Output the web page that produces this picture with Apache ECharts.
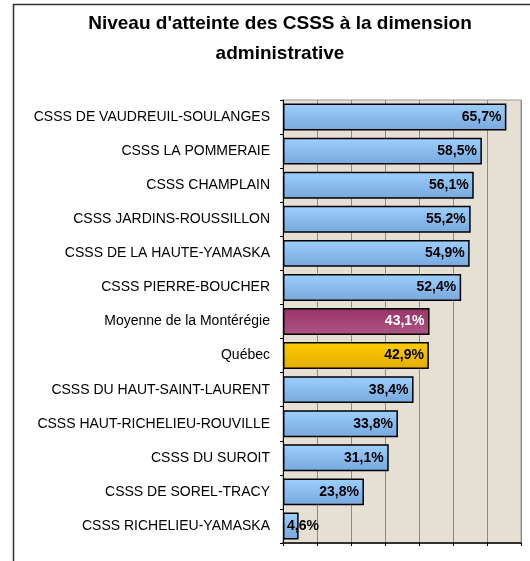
<!DOCTYPE html>
<html>
<head>
<meta charset="utf-8">
<script src="https://cdn.jsdelivr.net/npm/echarts@6/dist/echarts.min.js"></script>
<style>
  html, body { margin: 0; padding: 0; background: #fff; }
  #chart { width: 530px; height: 561px; }
</style>
</head>
<body>
<div id="chart"></div>
<script>
// data, top to bottom as in the picture
const categories = [
    'CSSS DE VAUDREUIL-SOULANGES',
    'CSSS LA POMMERAIE',
    'CSSS CHAMPLAIN',
    'CSSS JARDINS-ROUSSILLON',
    'CSSS DE LA HAUTE-YAMASKA',
    'CSSS PIERRE-BOUCHER',
    'Moyenne de la Montérégie',
    'Québec',
    'CSSS DU HAUT-SAINT-LAURENT',
    'CSSS HAUT-RICHELIEU-ROUVILLE',
    'CSSS DU SUROIT',
    'CSSS DE SOREL-TRACY',
    'CSSS RICHELIEU-YAMASKA'
]
const values = [65.7, 58.5, 56.1, 55.2, 54.9, 52.4, 43.1, 42.9, 38.4, 33.8, 31.1, 23.8, 4.6]

const font = 'Liberation Sans, Arial, sans-serif'

const grad = (top, bottom) => new echarts.graphic.LinearGradient(0, 0, 0, 1, [
    {offset: 0, color: top},
    {offset: 1, color: bottom}
])

function barStyle(name) {
    if (name === 'Moyenne de la Montérégie') return {fill: grad('#993366', '#ad5584'), text: '#fff'}
    if (name === 'Québec') return {fill: grad('#ffcc00', '#e3ad00'), text: '#000'}
    return {fill: grad('#9dcfff', '#78a8dc'), text: '#000'}
}

const fmt = v => v.toFixed(1).replace('.', ',') + '%'

const barData = values.map((v, i) => {
    let s = barStyle(categories[i])
    let item = {
        value: v,
        itemStyle: {color: s.fill},
        label: {color: s.text}
    }
    // too short to hold its label: Excel lets it run past the end
    if (v < 10) {
        item.label.position = 'insideLeft'
        item.label.offset = [-1, 0]
    }
    return item
})

let chart = echarts.init(document.getElementById('chart'))
chart.setOption({
    animation: false,
    textStyle: {fontFamily: font},
    title: {
        text: "Niveau d'atteinte des CSSS à la dimension\nadministrative",
        left: 275,
        top: 4,
        textAlign: 'center',
        textStyle: {fontSize: 19, fontWeight: 'bold', color: '#000', lineHeight: 30, fontFamily: font}
    },
    graphic: [
        {
            type: 'polyline',
            shape: {points: [[13.5, 561], [13.5, 4.5], [530, 4.5]]},
            style: {stroke: '#333', lineWidth: 1.5, fill: null},
            silent: true
        }
    ],
    grid: {
        left: 283,
        right: 9,
        top: 100,
        bottom: 18,
        show: true,
        backgroundColor: '#e6dfd4',
        borderColor: '#999',
        borderWidth: 1
    },
    xAxis: {
        type: 'value',
        min: 0,
        max: 70,
        interval: 10,
        axisLine: {show: true, lineStyle: {color: '#000', width: 1.5}},
        axisTick: {show: true, length: 3, lineStyle: {color: '#000'}},
        axisLabel: {show: false},
        splitLine: {show: true, lineStyle: {color: '#8a8a8a', width: 1}}
    },
    yAxis: {
        type: 'category',
        inverse: true,
        data: categories,
        axisLine: {show: true, lineStyle: {color: '#000', width: 1}},
        axisTick: {show: true, length: 3, lineStyle: {color: '#000'}},
        axisLabel: {
            margin: 13,
            fontSize: 14,
            color: '#000',
            fontFamily: font
        }
    },
    series: [{
        type: 'bar',
        data: barData,
        barWidth: '79%',
        itemStyle: {borderColor: '#000', borderWidth: 1.5},
        label: {
            show: true,
            position: 'insideRight',
            offset: [0, 0],
            fontSize: 14,
            fontWeight: 'bold',
            fontFamily: font,
            formatter: p => fmt(p.value)
        }
    }]
})
</script>
</body>
</html>
